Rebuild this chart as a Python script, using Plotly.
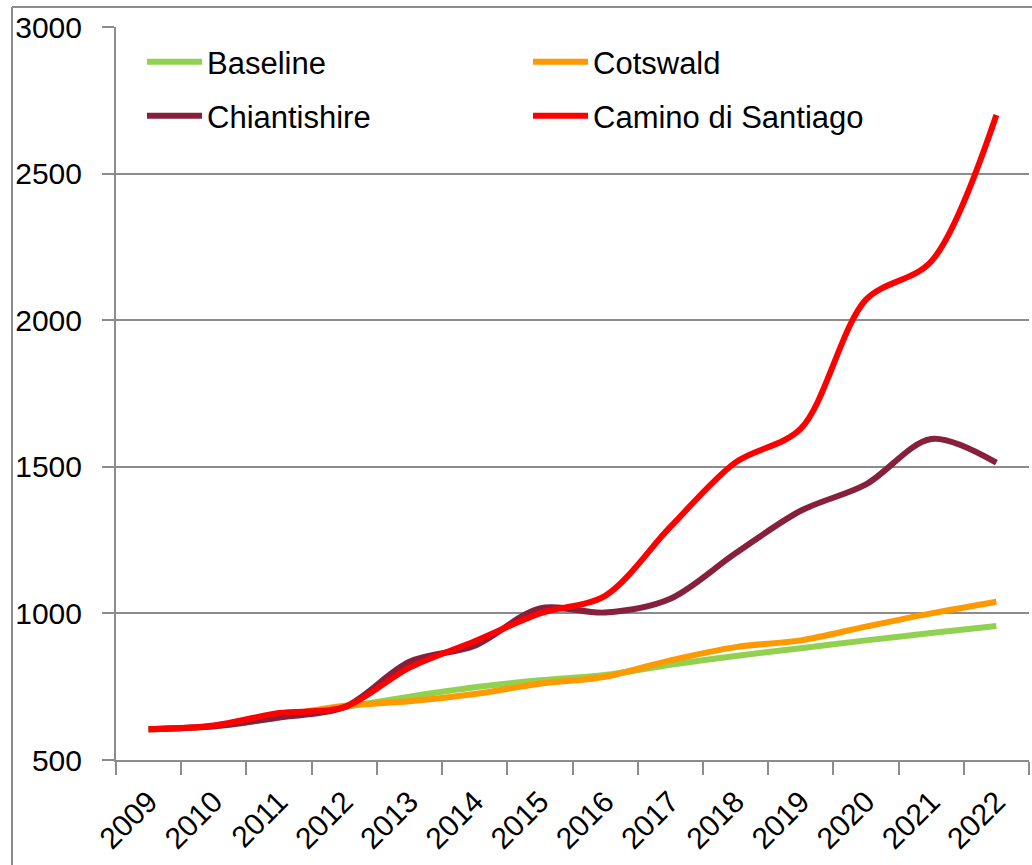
import plotly.graph_objects as go

years = ["2009", "2010", "2011", "2012", "2013", "2014", "2015",
         "2016", "2017", "2018", "2019", "2020", "2021", "2022"]
baseline = [605, 615, 645, 680, 716, 748, 772, 790, 825, 855, 881, 908, 933, 957]
cotswald = [605, 615, 650, 685, 700, 725, 760, 784, 840, 885, 908, 955, 1000, 1040]
chiantishire = [605, 615, 645, 680, 835, 890, 1017, 1003, 1050, 1205, 1350, 1440, 1595, 1514]
camino = [605, 618, 660, 680, 815, 905, 1000, 1060, 1295, 1515, 1630, 2070, 2200, 2700]

FONT = "Liberation Sans Narrow, Arial Narrow, Liberation Sans, Arial, sans-serif"
GRID = "#8c8c8c"

W, H = 1032, 865
ML, MR, MT, MB = 116, 3, 27, 105

pw = W - ML - MR
ph = H - MT - MB

def px_x(p):
    return (p - ML) / pw

def px_y(p):
    return (H - MB - p) / ph

fig = go.Figure()
series = [
    ("Baseline", baseline, "#92D050", "legend", 142, 62),
    ("Cotswald", cotswald, "#FF9900", "legend2", 528, 62),
    ("Chiantishire", chiantishire, "#86203C", "legend3", 142, 116),
    ("Camino di Santiago", camino, "#FF0000", "legend4", 528, 116),
]
legends = {}
for name, vals, col, lg, lx, ly in series:
    fig.add_trace(go.Scatter(
        x=years, y=vals, name=name, mode="lines",
        line=dict(color=col, width=6, shape="spline", smoothing=0.9),
        legend=lg,
    ))
    legends[lg] = dict(
        x=px_x(lx), y=px_y(ly), xanchor="left", yanchor="middle",
        font=dict(family=FONT, size=31, color="black"),
        bgcolor="rgba(0,0,0,0)", itemwidth=55, borderwidth=0,
    )

fig.update_layout(
    width=W, height=H,
    margin=dict(l=ML, r=MR, t=MT, b=MB, pad=0, autoexpand=False),
    paper_bgcolor="white", plot_bgcolor="white",
    font=dict(family=FONT, size=30, color="black"),
    showlegend=True,
    xaxis=dict(
        type="category", range=[-0.5, 13.5], automargin=False,
        showline=True, linecolor=GRID, linewidth=2,
        ticks="outside", ticklen=13, tickcolor=GRID, tickwidth=2,
        tickson="boundaries", tickangle=-45, ticklabelstandoff=10,
        showgrid=False,
        tickfont=dict(family=FONT, size=30, color="black"),
    ),
    yaxis=dict(
        range=[500, 3000], dtick=500, tick0=500, automargin=False,
        showline=True, linecolor=GRID, linewidth=2,
        ticks="outside", ticklen=12, tickcolor=GRID, tickwidth=2,
        showgrid=True, gridcolor=GRID, gridwidth=2,
        zeroline=False, ticklabelstandoff=14,
        tickfont=dict(family=FONT, size=30, color="black"),
    ),
    shapes=[
        dict(type="line", xref="paper", yref="paper",
             x0=px_x(12), x1=px_x(12), y0=px_y(7), y1=px_y(H + 5),
             line=dict(color=GRID, width=2)),
        dict(type="line", xref="paper", yref="paper",
             x0=px_x(12), x1=px_x(W + 5), y0=px_y(7), y1=px_y(7),
             line=dict(color=GRID, width=2)),
    ],
    **legends,
)

fig.write_html("out.html", config={"displayModeBar": False},
               post_script="document.body.style.margin='0';")
